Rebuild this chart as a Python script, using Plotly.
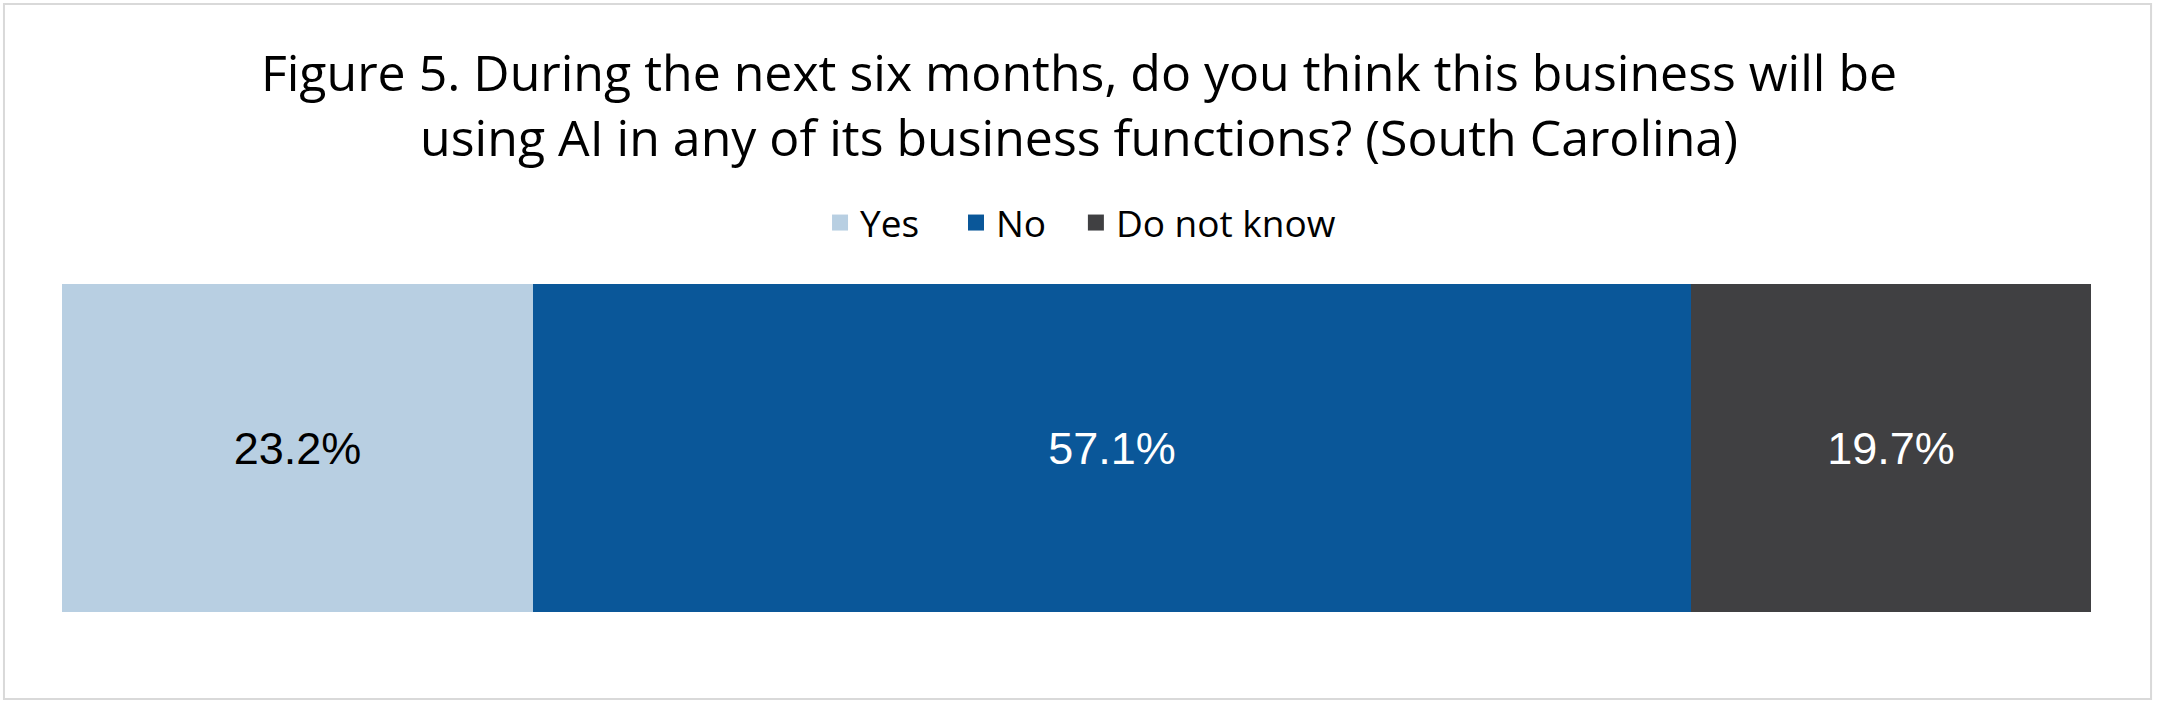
import plotly.graph_objects as go

# survey answers, South Carolina
region = ["South Carolina"]
answers = ["Yes", "No", "Do not know"]
yes_pct = [23.2]
no_pct = [57.1]
dont_know_pct = [19.7]

colors = ["#B8CFE2", "#0A5799", "#404042"]
label_colors = ["black", "white", "white"]

fig = go.Figure()
for name, vals, c, tc in zip(answers, [yes_pct, no_pct, dont_know_pct], colors, label_colors):
    fig.add_trace(go.Bar(
        x=vals, y=region, name=name, orientation="h",
        marker=dict(color=c, line=dict(width=0)),
        texttemplate="%{x:.1f}%", textposition="inside",
        insidetextanchor="middle",
        textfont=dict(family="Liberation Sans, Arial", size=45, color=tc),
        hoverinfo="skip", showlegend=False,
    ))

# legend entries with bigger square keys, one small legend each so the gaps match
legend_ids = ["legend", "legend2", "legend3"]
legend_x = [0.3736, 0.4406, 0.4997]
for name, c, lid in zip(answers, colors, legend_ids):
    fig.add_trace(go.Scatter(
        x=[None], y=[None], mode="markers", name=name, legend=lid,
        marker=dict(symbol="square", size=16, color=c),
    ))

leg_style = dict(
    orientation="h", xanchor="left", y=1.186, yanchor="middle",
    font=dict(family="Open Sans", size=37, color="black"),
    itemsizing="trace", bgcolor="rgba(0,0,0,0)",
)

fig.update_layout(
    width=2158, height=705,
    barmode="stack", bargap=0,
    paper_bgcolor="white", plot_bgcolor="white",
    margin=dict(l=62, r=67, t=284, b=93),
    title=dict(
        text="Figure 5. During the next six months, do you think this business will be<br>"
             "using AI in any of its business functions? (South Carolina)",
        x=0.5, xanchor="center", y=0.871, yanchor="top", yref="container",
        font=dict(family="Open Sans", size=50, color="black"),
    ),
    legend=dict(x=legend_x[0], **leg_style),
    legend2=dict(x=legend_x[1], **leg_style),
    legend3=dict(x=legend_x[2], **leg_style),
    xaxis=dict(range=[0, 100], visible=False, fixedrange=True),
    yaxis=dict(range=[-0.5, 0.5], visible=False, fixedrange=True),
)

# light grey frame round the chart
fig.add_shape(type="rect", xref="paper", yref="paper",
              x0=-0.0286, x1=1.0296, y0=-0.265, y1=1.854,
              line=dict(color="#D9D9D9", width=2), fillcolor="rgba(0,0,0,0)",
              layer="below")

fig.write_html("out.html", config={"displayModeBar": False},
               post_script="document.body.style.margin='0px';")
